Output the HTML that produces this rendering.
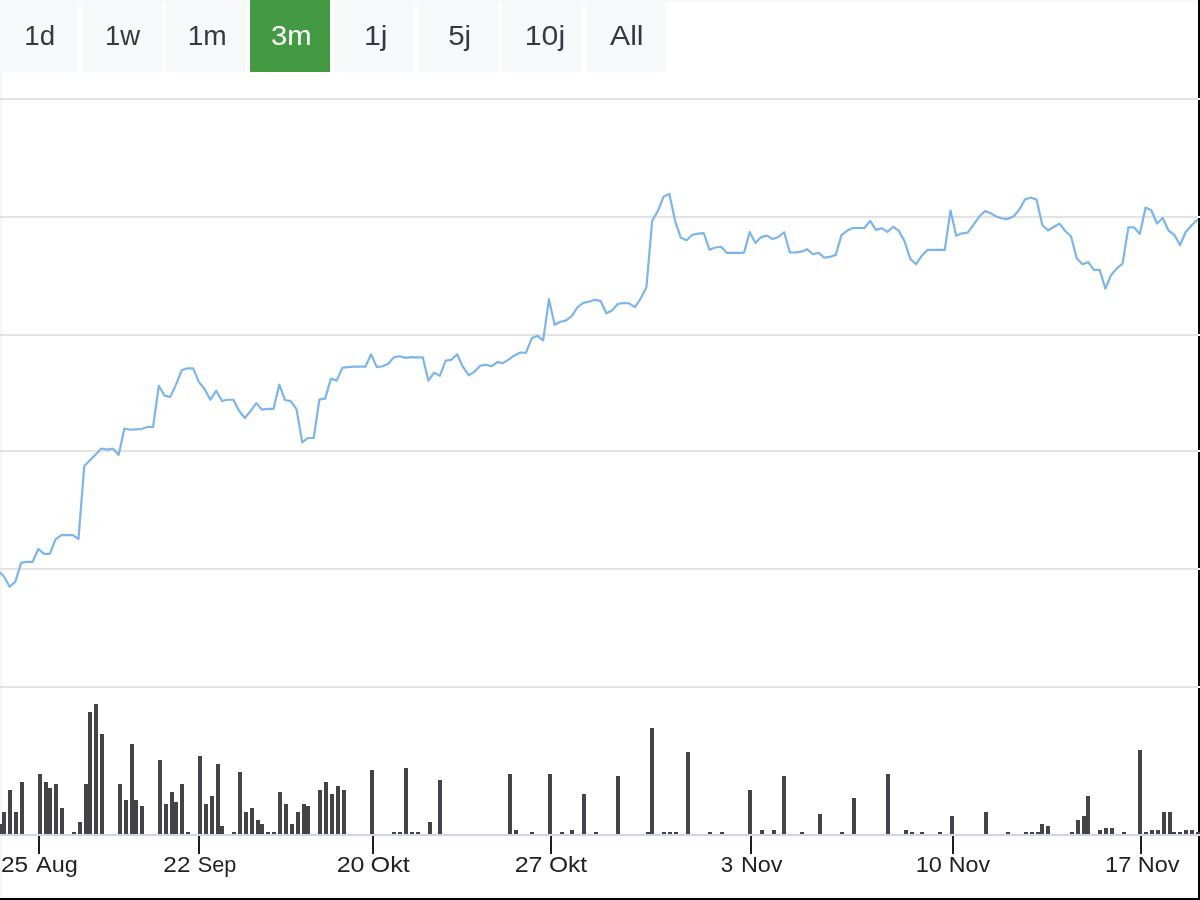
<!DOCTYPE html>
<html><head><meta charset="utf-8"><style>
html,body{margin:0;padding:0;background:#fff;width:1200px;height:900px;overflow:hidden}
svg{display:block;will-change:transform}
.bt{font-family:"Liberation Sans",sans-serif;font-size:27.8px;text-anchor:middle}
.lb{font-family:"Liberation Sans",sans-serif;font-size:22px;text-anchor:start;fill:#222}
</style></head><body>
<svg width="1200" height="900" viewBox="0 0 1200 900">
<rect x="0" y="0" width="1200" height="900" fill="#fff"/>
<rect x="0" y="0" width="1198" height="2" fill="#f7f8fa"/>
<rect x="-2" y="0" width="80" height="72" fill="#f7f8fa"/><text x="39.5" y="44.8" fill="#333a42" class="bt" transform="matrix(0.9963,0,0,1,0.296,0)">1d</text><rect x="82" y="0" width="80" height="72" fill="#f7f8fa"/><text x="123.3" y="44.8" fill="#333a42" class="bt" transform="matrix(0.9909,0,0,1,0.382,0)">1w</text><rect x="166" y="0" width="80" height="72" fill="#f7f8fa"/><text x="207.3" y="44.8" fill="#333a42" class="bt" transform="matrix(1.0114,0,0,1,-2.471,0)">1m</text><rect x="250" y="0" width="80" height="72" fill="#439a43"/><text x="290.8" y="44.8" fill="#ffffff" class="bt" transform="matrix(1.0514,0,0,1,-14.440,0)">3m</text><rect x="334" y="0" width="80" height="72" fill="#f7f8fa"/><text x="376.2" y="44.8" fill="#333a42" class="bt" transform="matrix(1.0882,0,0,1,-33.671,0)">1j</text><rect x="418" y="0" width="80" height="72" fill="#f7f8fa"/><text x="460" y="44.8" fill="#333a42" class="bt" transform="matrix(1.0639,0,0,1,-29.714,0)">5j</text><rect x="502" y="0" width="80" height="72" fill="#f7f8fa"/><text x="545" y="44.8" fill="#333a42" class="bt" transform="matrix(1.0906,0,0,1,-49.441,0)">10j</text><rect x="586" y="0" width="80" height="72" fill="#f7f8fa"/><text x="626.7" y="44.8" fill="#333a42" class="bt" transform="matrix(1.0875,0,0,1,-54.750,0)">All</text>
<rect x="0" y="72" width="2" height="826" fill="#f5f6f8"/>
<rect x="0" y="896" width="1198" height="2" fill="#f7f8fa"/>
<rect x="0" y="98" width="1198" height="2" fill="#e3e3e3"/><rect x="0" y="216" width="1198" height="2" fill="#e3e3e3"/><rect x="0" y="334" width="1198" height="2" fill="#e3e3e3"/><rect x="0" y="450" width="1198" height="2" fill="#e3e3e3"/><rect x="0" y="568" width="1198" height="2" fill="#e3e3e3"/><rect x="0" y="686" width="1198" height="2" fill="#e3e3e3"/>
<path d="M-2 824h4V834h-4ZM2 812h4V834h-4ZM8 790h4V834h-4ZM14 812h4V834h-4ZM20 782h4V834h-4ZM38 774h4V834h-4ZM44 782h4V834h-4ZM48 788h4V834h-4ZM54 784h4V834h-4ZM60 808h4V834h-4ZM72 832h4V834h-4ZM78 822h4V834h-4ZM84 784h4V834h-4ZM88 712h4V834h-4ZM94 704h4V834h-4ZM100 734h4V834h-4ZM118 784h4V834h-4ZM124 800h4V834h-4ZM130 744h4V834h-4ZM134 800h4V834h-4ZM140 806h4V834h-4ZM158 760h4V834h-4ZM164 804h4V834h-4ZM170 792h4V834h-4ZM174 802h4V834h-4ZM180 784h4V834h-4ZM186 832h4V834h-4ZM198 756h4V834h-4ZM204 804h4V834h-4ZM210 796h4V834h-4ZM216 764h4V834h-4ZM220 826h4V834h-4ZM232 832h4V834h-4ZM238 772h4V834h-4ZM244 812h4V834h-4ZM250 808h4V834h-4ZM256 820h4V834h-4ZM260 824h4V834h-4ZM266 832h4V834h-4ZM272 832h4V834h-4ZM278 792h4V834h-4ZM284 804h4V834h-4ZM290 824h4V834h-4ZM296 812h4V834h-4ZM302 804h4V834h-4ZM306 806h4V834h-4ZM318 790h4V834h-4ZM324 782h4V834h-4ZM330 794h4V834h-4ZM336 786h4V834h-4ZM342 790h4V834h-4ZM370 770h4V834h-4ZM392 832h4V834h-4ZM398 832h4V834h-4ZM404 768h4V834h-4ZM410 832h4V834h-4ZM416 832h4V834h-4ZM428 822h4V834h-4ZM438 780h4V834h-4ZM508 774h4V834h-4ZM514 830h4V834h-4ZM530 832h4V834h-4ZM548 774h4V834h-4ZM560 832h4V834h-4ZM570 830h4V834h-4ZM582 794h4V834h-4ZM594 832h4V834h-4ZM616 776h4V834h-4ZM646 832h4V834h-4ZM650 728h4V834h-4ZM662 832h4V834h-4ZM668 832h4V834h-4ZM674 832h4V834h-4ZM686 752h4V834h-4ZM708 832h4V834h-4ZM720 832h4V834h-4ZM748 790h4V834h-4ZM760 830h4V834h-4ZM772 830h4V834h-4ZM782 776h4V834h-4ZM800 832h4V834h-4ZM818 814h4V834h-4ZM840 832h4V834h-4ZM852 798h4V834h-4ZM886 774h4V834h-4ZM904 830h4V834h-4ZM910 832h4V834h-4ZM920 832h4V834h-4ZM938 832h4V834h-4ZM950 816h4V834h-4ZM984 812h4V834h-4ZM1006 832h4V834h-4ZM1024 832h4V834h-4ZM1030 832h4V834h-4ZM1036 832h4V834h-4ZM1040 824h4V834h-4ZM1046 826h4V834h-4ZM1070 832h4V834h-4ZM1076 820h4V834h-4ZM1082 816h4V834h-4ZM1086 796h4V834h-4ZM1098 830h4V834h-4ZM1104 828h4V834h-4ZM1110 828h4V834h-4ZM1122 832h4V834h-4ZM1138 750h4V834h-4ZM1144 832h4V834h-4ZM1150 830h4V834h-4ZM1156 830h4V834h-4ZM1162 812h4V834h-4ZM1168 812h4V834h-4ZM1172 832h4V834h-4ZM1178 832h4V834h-4ZM1184 830h4V834h-4ZM1190 830h4V834h-4ZM1196 832h4V834h-4Z" fill="#434348"/>
<rect x="0" y="834" width="1198" height="2" fill="#ccd6eb"/>
<path d="M-1.84 571.00 L3.90 576.30 L9.64 586.80 L15.37 581.60 L21.11 562.90 L26.85 561.90 L32.59 561.90 L38.32 549.00 L44.06 553.90 L49.80 553.90 L55.53 539.30 L61.27 535.20 L67.01 535.20 L72.74 535.20 L78.48 539.10 L84.22 466.20 L89.96 460.30 L95.69 454.40 L101.43 448.50 L107.17 449.60 L112.90 448.50 L118.64 455.00 L124.38 428.50 L130.11 429.75 L135.85 429.30 L141.59 429.00 L147.33 427.00 L153.06 427.00 L158.80 385.80 L164.54 395.70 L170.27 396.90 L176.01 384.60 L181.75 370.20 L187.48 368.30 L193.22 368.30 L198.96 382.10 L204.70 389.20 L210.43 399.75 L216.17 390.70 L221.91 400.80 L227.64 399.75 L233.38 399.75 L239.12 411.00 L244.85 418.00 L250.59 410.90 L256.33 403.10 L262.06 409.70 L267.80 408.80 L273.54 408.80 L279.28 384.70 L285.01 400.00 L290.75 401.10 L296.49 409.10 L302.22 442.40 L307.96 438.00 L313.70 438.00 L319.44 399.30 L325.17 398.60 L330.91 378.60 L336.65 380.60 L342.38 367.75 L348.12 367.10 L353.86 366.70 L359.59 366.70 L365.33 366.70 L371.07 354.30 L376.81 367.10 L382.54 366.25 L388.28 363.75 L394.02 357.10 L399.75 356.25 L405.49 357.90 L411.23 357.10 L416.96 357.30 L422.70 357.30 L428.44 380.70 L434.18 372.70 L439.91 375.80 L445.65 360.70 L451.39 359.80 L457.12 354.20 L462.86 366.70 L468.60 375.25 L474.33 371.90 L480.07 365.80 L485.81 364.75 L491.54 366.25 L497.28 362.10 L503.02 363.10 L508.76 359.40 L514.49 355.40 L520.23 352.50 L525.97 352.80 L531.70 338.30 L537.44 335.80 L543.18 340.40 L548.91 299.20 L554.65 324.80 L560.39 321.70 L566.13 320.40 L571.86 315.80 L577.60 307.10 L583.34 302.90 L589.07 301.70 L594.81 299.80 L600.55 300.80 L606.28 313.30 L612.02 310.40 L617.76 304.00 L623.50 303.00 L629.23 303.40 L634.97 307.20 L640.71 298.50 L646.44 287.00 L652.18 220.60 L657.92 211.00 L663.65 196.40 L669.39 194.00 L675.13 221.10 L680.87 237.80 L686.60 240.30 L692.34 234.80 L698.08 233.70 L703.81 233.05 L709.55 249.80 L715.29 247.50 L721.02 246.75 L726.76 252.80 L732.50 252.90 L738.24 252.90 L743.97 252.90 L749.71 232.10 L755.45 243.00 L761.18 237.10 L766.92 235.60 L772.66 239.00 L778.39 237.00 L784.13 232.25 L789.87 252.50 L795.61 252.30 L801.34 251.70 L807.08 249.15 L812.82 254.25 L818.55 252.75 L824.29 257.60 L830.03 256.90 L835.76 254.85 L841.50 235.10 L847.24 230.60 L852.98 228.00 L858.71 228.00 L864.45 228.00 L870.19 220.90 L875.92 229.90 L881.66 228.20 L887.40 231.90 L893.13 226.75 L898.87 230.90 L904.61 241.40 L910.35 258.90 L916.08 264.25 L921.82 255.60 L927.56 249.85 L933.29 249.85 L939.03 249.85 L944.77 249.85 L950.50 210.60 L956.24 235.75 L961.98 233.35 L967.72 232.70 L973.45 224.90 L979.19 216.60 L984.93 211.00 L990.66 213.25 L996.40 216.60 L1002.14 218.50 L1007.88 219.10 L1013.61 216.25 L1019.35 209.65 L1025.09 199.40 L1030.82 197.50 L1036.56 199.60 L1042.30 225.00 L1048.03 230.55 L1053.77 227.00 L1059.51 223.60 L1065.25 231.00 L1070.98 236.20 L1076.72 258.30 L1082.46 264.20 L1088.19 262.10 L1093.93 269.90 L1099.67 269.90 L1105.40 288.60 L1111.14 275.00 L1116.88 268.40 L1122.62 263.50 L1128.35 227.30 L1134.09 227.30 L1139.83 234.00 L1145.56 207.50 L1151.30 210.20 L1157.04 223.50 L1162.77 218.00 L1168.51 230.50 L1174.25 234.80 L1179.99 245.00 L1185.72 232.00 L1191.46 225.50 L1197.20 220.00" fill="none" stroke="#7cb5ec" stroke-width="2.2" stroke-linejoin="round" stroke-linecap="round"/>
<rect x="38" y="836" width="2" height="18" fill="#1e1e1e"/><rect x="198" y="836" width="2" height="18" fill="#1e1e1e"/><rect x="372" y="836" width="2" height="18" fill="#1e1e1e"/><rect x="550" y="836" width="2" height="18" fill="#1e1e1e"/><rect x="750" y="836" width="2" height="18" fill="#1e1e1e"/><rect x="952" y="836" width="2" height="18" fill="#1e1e1e"/><rect x="1140" y="836" width="2" height="18" fill="#1e1e1e"/><text x="2" y="872" class="lb" transform="matrix(1.1136,0,0,1,-1.341,0)">25</text><text x="36" y="872" class="lb" transform="matrix(1.0658,0,0,1,-2.368,0)">Aug</text><text x="164.75" y="872" class="lb" transform="matrix(1.1068,0,0,1,-18.982,0)">22</text><text x="198.9" y="872" class="lb" transform="matrix(0.9865,0,0,1,1.603,0)">Sep</text><text x="337.9" y="872" class="lb" transform="matrix(1.1409,0,0,1,-48.868,0)">20</text><text x="372.4" y="872" class="lb" transform="matrix(1.1469,0,0,1,-56.531,0)">Okt</text><text x="515.9" y="872" class="lb" transform="matrix(1.1409,0,0,1,-73.950,0)">27</text><text x="550" y="872" class="lb" transform="matrix(1.1152,0,0,1,-64.448,0)">Okt</text><text x="722.4" y="872" class="lb" transform="matrix(1.0100,0,0,1,-8.840,0)">3</text><text x="743" y="872" class="lb" transform="matrix(1.0649,0,0,1,-50.324,0)">Nov</text><text x="917.4" y="872" class="lb" transform="matrix(1.0727,0,0,1,-68.436,0)">10</text><text x="950.9" y="872" class="lb" transform="matrix(1.0595,0,0,1,-58.765,0)">Nov</text><text x="1106.6" y="872" class="lb" transform="matrix(1.0773,0,0,1,-87.018,0)">17</text><text x="1139.9" y="872" class="lb" transform="matrix(1.0676,0,0,1,-79.262,0)">Nov</text>
<rect x="0" y="898" width="1200" height="2" fill="#000"/>
<rect x="1198" y="0" width="2" height="900" fill="#000"/>
<rect x="1198" y="98" width="2" height="2" fill="#fff"/>
<rect x="1198" y="216" width="2" height="2" fill="#fff"/>
<rect x="1198" y="334" width="2" height="2" fill="#fff"/>
<rect x="1198" y="450" width="2" height="2" fill="#fff"/>
<rect x="1198" y="568" width="2" height="2" fill="#fff"/>
<rect x="1198" y="686" width="2" height="2" fill="#fff"/>
<rect x="1196" y="832" width="4" height="2" fill="#434348"/>
<rect x="1198" y="834" width="2" height="2" fill="#ccd6eb"/>
</svg>
</body></html>
